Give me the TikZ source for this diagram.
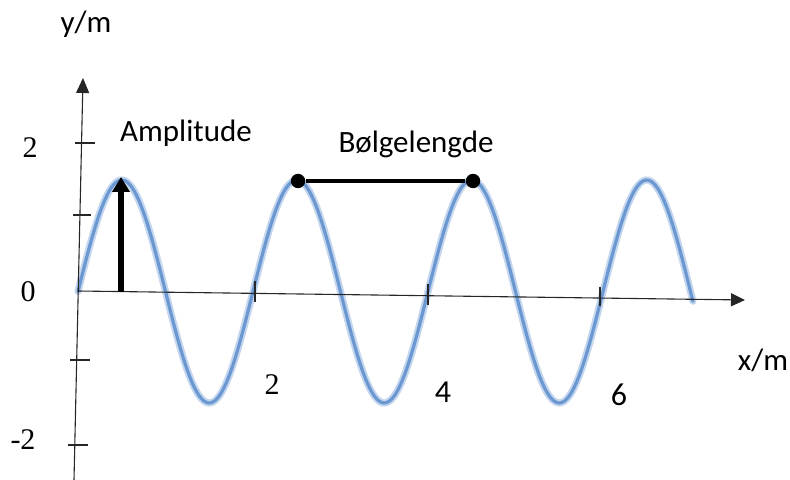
\documentclass[tikz,border=0pt]{standalone}
\usepackage{fontspec}
\setmainfont{Liberation Serif}
\newfontfamily\carlitofont{Carlito}
\usetikzlibrary{arrows.meta}
\definecolor{wave}{RGB}{108,152,210}
\definecolor{wavepale}{RGB}{196,214,238}
\begin{document}
\begin{tikzpicture}[x=0.5pt,y=-0.5pt,
  axis/.style={line width=0.55pt,black!85},
  tick/.style={line width=0.55pt,black!85},
  num/.style={font=\fontsize{15}{17}\selectfont,inner sep=0pt},
  sansnum/.style={font=\carlitofont\fontsize{16}{18}\selectfont,inner sep=0pt},
  lab/.style={font=\carlitofont\fontsize{15.5}{18}\selectfont,inner sep=0pt,anchor=base},
  thick arrow/.style={line width=2.8pt,-{Triangle[length=7.5pt,width=8.5pt]}},
  dotnode/.style={circle,fill=black,inner sep=0pt,minimum size=7.2pt}]
\useasboundingbox (0,0) rectangle (790,480);
% wave
\draw[wavepale,line width=3.6pt,line cap=round] plot[domain=0:1265,samples=250,smooth] ({78+\x/360*175},{291.5-111.5*sin(\x)});
\draw[wave,line width=1.6pt,line cap=round] plot[domain=0:1265,samples=250,smooth] ({78+\x/360*175},{291.5-111.5*sin(\x)});
% axes
\coordinate (ybot) at (74,480);
\coordinate (ytop) at (83,78);
\coordinate (o) at (78.2,291);
\coordinate (xend) at (745,300);
\draw[axis,-{Triangle[length=7.5pt,width=6.5pt]}] (ybot) -- (ytop);
\draw[axis,-{Triangle[length=7pt,width=6.5pt]}] (o) -- (xend);
% y ticks
\foreach \ya/\xa/\xb in {143/75/95, 215/73/91, 360/70/90, 445/68/88}{
  \coordinate (ta) at (\xa,\ya); \coordinate (tb) at (\xb,\ya);
  \draw[tick] (ta) -- (tb);}
% x ticks
\foreach \xa/\ya/\yb in {255/281/302, 428/284/305, 600/287/306}{
  \coordinate (ta) at (\xa,\ya); \coordinate (tb) at (\xa,\yb);
  \draw[tick] (ta) -- (tb);}
% amplitude arrow
\coordinate (ab) at (121,292);
\coordinate (at) at (121,177);
\draw[thick arrow] (ab) -- (at);
% wavelength
\node[dotnode] (p1) at (298,181) {};
\node[dotnode] (p2) at (473,181) {};
\draw[line width=2.4pt] (p1) -- (p2);
% labels
\node[lab] (amp) at (186,142) {Amplitude};
\node[lab] (bl) at (416,153) {Bølgelengde};
\node[lab] (ylab) at (86,33) {y/m};
\node[lab] (xlab) at (763,370) {x/m};
\node[num] (y2) at (30,148) {2};
\node[num] (y0) at (28,292) {0};
\node[num] (ym2) at (23,440) {-2};
\node[num] (x2) at (272,385) {2};
\node[sansnum] (x4) at (443,392) {4};
\node[sansnum] (x6) at (619,395) {6};
\end{tikzpicture}
\end{document}
